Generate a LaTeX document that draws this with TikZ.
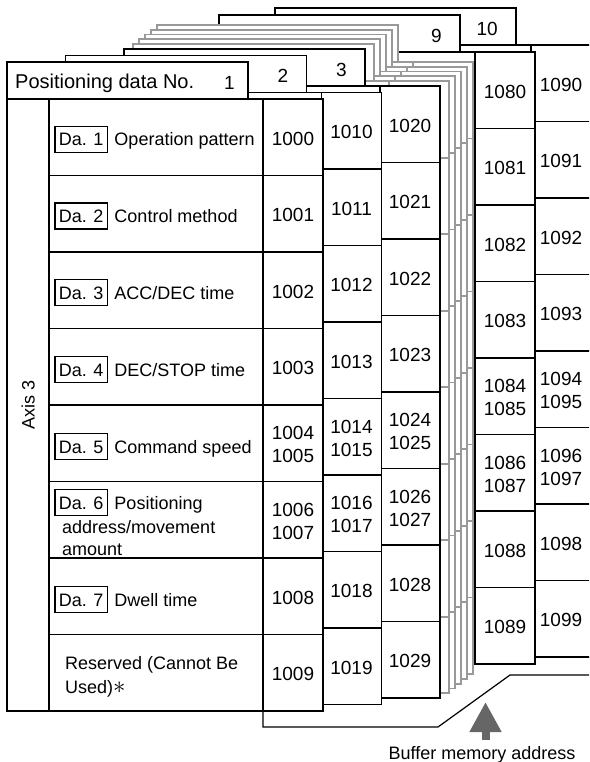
\documentclass[tikz,border=0pt]{standalone}
\usepackage{fontspec}
\setmainfont{Liberation Sans}
\usetikzlibrary{positioning}
\usetikzlibrary{arrows.meta}
\tikzset{
  sheet/.style = {draw=black, fill=white, line width=1.8pt},% front sheets
  greysheet/.style = {draw=black!40, fill=white, line width=1.8pt},% sheets 4 to 8
  celltext/.style = {inner sep=0pt, text height=13pt, text depth=0pt,
    font=\fontsize{18}{21.5}\selectfont},
  multiline/.style = {text height={}, text depth={}},
  addr/.style = {inner sep=0pt, align=center, font=\fontsize{19}{23}\selectfont},
  tabno/.style = {celltext, anchor=east, font=\fontsize{19}{23}\selectfont},
  dabox/.style = {celltext, anchor=west, draw=black, line width=1.6pt,
    inner xsep=4pt, inner ysep=6.5pt},
  itemtext/.style = {celltext, anchor=west, align=left},
  bracket/.style = {draw=black, line width=1.2pt},
  bufarrow/.style = {draw=black!60, line width=8pt,
    -{Triangle[length=30pt, width=30pt]}}
}
% one sheet: #1,#2 = top left corner of its tab, #3 = style
\newcommand{\datasheet}[3]{%
  \draw[#3] ({#1},{#2}) rectangle ++(241,37);
  \draw[#3] ({#1},{#2+37}) rectangle ++(316,612);
  \draw[#3] ({#1+42},{#2+37}) -- ++(0,612);
  \draw[#3] ({#1+256},{#2+37}) -- ++(0,612);
  \foreach \k in {1,...,7}
    \draw[#3] ({#1+42},{#2+37+\k*76.5}) -- ++(274,0);
}
\begin{document}
\begin{tikzpicture}[x=1pt, y=-1pt]
  \useasboundingbox (0,0) rectangle (589,762);
  \clip (0,0) rectangle (589,762);
  % sheets, back to front
  \datasheet{275}{8}{sheet}
  \datasheet{219}{15}{sheet}
  \foreach \g in {4,3,2,1,0}
    {\datasheet{133+6*\g}{44.2-4.8*\g}{greysheet}}
  \datasheet{124}{49}{sheet}
  \datasheet{65.5}{55.5}{sheet}
  \datasheet{7}{62}{sheet}

  % tab numbers
  \foreach \x/\y/\n/\d in {7/62/1/5, 65.5/55.5/2/0, 124/49/3/0, 219/15/9/0, 275/8/10/0}
    \node[tabno] (tab\n) at ({\x+223+\d},{\y+21}) {\n};
  \node[celltext, anchor=west, font=\fontsize{20}{24}\selectfont] (tabtitle)
    at (15,82) {Positioning data No.};

  % buffer memory addresses
  \foreach \x/\y/\b in {7/62/100, 65.5/55.5/101, 124/49/102, 219/15/108, 275/8/109}
    \foreach \a [count=\r from 0] in {0,1,2,3,{4\\\b5},{6\\\b7},8,9}
      \node[addr] (adr-\b-\r) at ({\x+286},{\y+76.5+\r*76.5}) {\b\a};

  % axis and items
  \node[celltext, rotate=90] (axis) at (28,405) {Axis 3};
  \node[dabox] (da1) at (54,139.5) {Da. 1};
  \node[itemtext, right=6pt of da1] (it1) {Operation pattern};
  \node[dabox] (da2) at (54,216) {Da. 2};
  \node[itemtext, right=6pt of da2] (it2) {Control method};
  \node[dabox] (da3) at (54,292.5) {Da. 3};
  \node[itemtext, right=6pt of da3] (it3) {ACC/DEC time};
  \node[dabox] (da4) at (54,369.5) {Da. 4};
  \node[itemtext, right=6pt of da4] (it4) {DEC/STOP time};
  \node[dabox] (da5) at (54,446.5) {Da. 5};
  \node[itemtext, right=6pt of da5] (it5) {Command speed};
  \node[dabox] (da6) at (54,502.5) {Da. 6};
  \node[itemtext, right=6pt of da6] (it6) {Positioning};
  \node[itemtext] (it6b) at (62,527) {address/movement};
  \node[itemtext] (it6c) at ([yshift=-21.5pt]it6b.west) {amount};
  \node[dabox] (da7) at (54,599.5) {Da. 7};
  \node[itemtext, right=6pt of da7] (it7) {Dwell time};
  \node[itemtext, multiline, font=\fontsize{18}{24}\selectfont] (it8) at (65,677)
    {Reserved (Cannot Be\\Used){\fontsize{24}{24}\selectfont$\ast$}};

  % bracket and pointer
  \coordinate (brtop) at (263,711);
  \draw[bracket] (brtop) -- ++(0,16) -- (438,727) -- (510,675) -- (589,675);
  \node[celltext] (bufmem) at (482,752.5) {Buffer memory address};
  \coordinate (bufbase) at (485.5,740);
  \coordinate (buftip) at (485.5,702);
  \draw[bufarrow] (bufbase) -- (buftip);
\end{tikzpicture}
\end{document}
